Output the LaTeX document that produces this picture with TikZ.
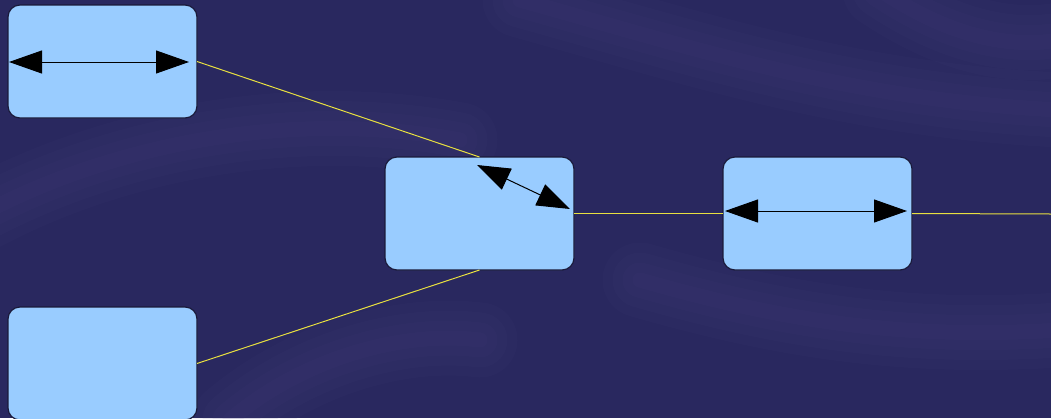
\documentclass[tikz,border=0pt]{standalone}
\usetikzlibrary{arrows.meta}
\definecolor{bgnavy}{HTML}{29285F}
\definecolor{streak}{HTML}{4A4580}
\definecolor{boxfill}{HTML}{99CCFF}
\definecolor{boxline}{HTML}{1A1A3A}
\definecolor{linkyellow}{HTML}{E8E040}
\tikzset{
  x=1pt, y=-1pt,
  blockbox/.style={draw=boxline, line width=1.2pt, fill=boxfill, rounded corners=12pt,
    minimum width=189pt, minimum height=113pt, inner sep=0pt, outer sep=0pt},
  link/.style={draw=linkyellow, line width=1pt},
  dblarrow/.style={draw=black, line width=1pt, {Triangle[length=33pt,width=23pt]}-{Triangle[length=33pt,width=23pt]}},
  softband/.style={draw=streak, line cap=round, draw opacity=0.08}
}
\begin{document}
\begin{tikzpicture}
\useasboundingbox (0,0) rectangle (1051,418);
\fill[bgnavy] (0,0) rectangle (1051,418);
% soft background streaks
\begin{scope}
\clip (0,0) rectangle (1051,418);
\foreach \w in {15,35,55,75}{
  \draw[softband, line width=\w pt] (-20,215) .. controls (120,140) and (300,110) .. (460,140);
  \draw[softband, line width=\w pt] (230,420) .. controls (300,360) and (400,330) .. (480,340);
  \draw[softband, line width=\w pt] (520,0) .. controls (700,50) and (850,100) .. (1060,110);
  \draw[softband, line width=\w pt] (640,280) .. controls (780,320) and (900,340) .. (1060,330);
  \draw[softband, line width=\w pt] (880,-10) .. controls (940,30) and (1000,50) .. (1060,40);
}
\end{scope}
% boxes
\node[blockbox] (A) at (102.5,61.5) {};
\node[blockbox] (B) at (479.5,213.5) {};
\node[blockbox] (C) at (817.5,213.5) {};
\node[blockbox] (D) at (102.5,363.5) {};
% connectors
\coordinate (edge) at (1051,214);
\draw[link] (A.east) -- (B.north);
\draw[link] (D.east) -- (B.south);
\draw[link] (B.east) -- (C.west);
\draw[link] (C.east) -- (edge);
% arrows inside boxes
\coordinate (a1) at (9,62);
\coordinate (a2) at (189,62);
\coordinate (b1) at (477,165);
\coordinate (b2) at (570,209);
\coordinate (c1) at (725,211);
\coordinate (c2) at (907,211);
\draw[dblarrow] (a1) -- (a2);
\draw[dblarrow] (b1) -- (b2);
\draw[dblarrow] (c1) -- (c2);
\end{tikzpicture}
\end{document}
